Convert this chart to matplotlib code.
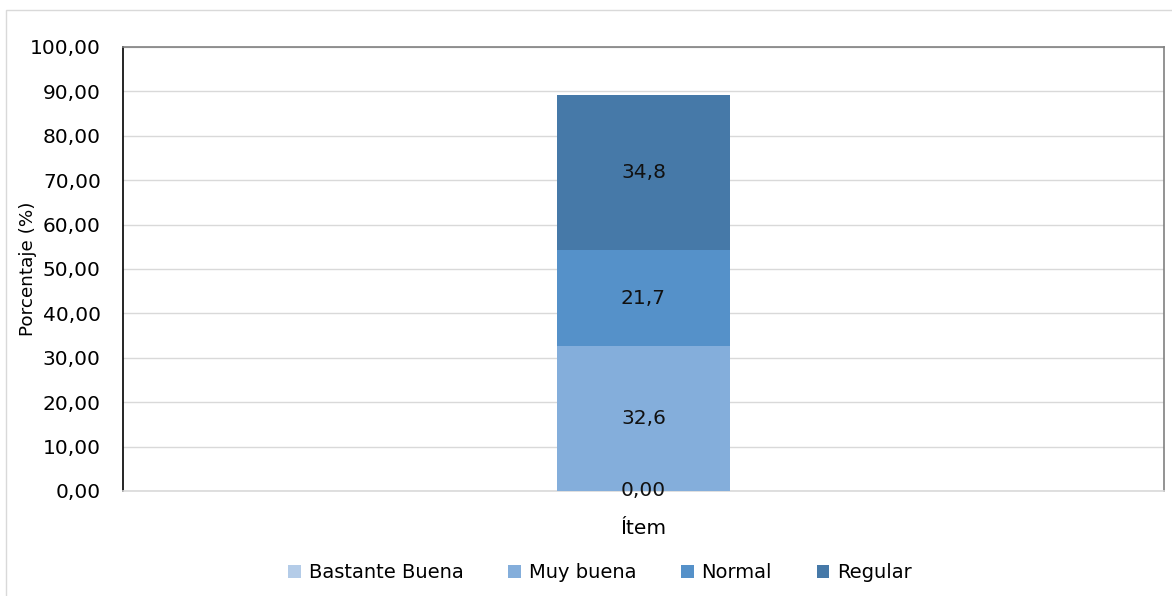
import matplotlib.pyplot as plt
from matplotlib.patches import Rectangle

categories = ['Ítem']
series = ['Bastante Buena', 'Muy buena', 'Normal', 'Regular']
values = [0.00, 32.6, 21.7, 34.8]
value_labels = ['0,00', '32,6', '21,7', '34,8']
colors = ['#B4CCE8', '#84AEDB', '#5591C9', '#4679A8']
yticks = [0, 10, 20, 30, 40, 50, 60, 70, 80, 90, 100]

plt.rcParams['font.family'] = ['DejaVu Sans']

fig = plt.figure(figsize=(11.72, 5.96), dpi=100)
# light outer frame of the chart
fig.patches.append(Rectangle((6 / 1172, -0.01), 1.02, 1 - 10 / 596 + 0.01, transform=fig.transFigure,
                             fill=False, edgecolor='#D9D9D9', linewidth=1))
ax = fig.add_axes([123 / 1172, 1 - 491 / 596, 1041 / 1172, 444 / 596])

bottom = 0
for name, v, lab, c in zip(series, values, value_labels, colors):
    ax.bar(0, v, width=0.166, bottom=bottom, color=c, label=name, zorder=3)
    ax.text(0, bottom + v / 2, lab, ha='center', va='center', fontsize=14.5,
            color='#111111', zorder=4)
    bottom += v

ax.set_xlim(-0.5, 0.5)
ax.set_ylim(0, 100)
ax.set_yticks(yticks)
ax.set_yticklabels([f'{t:.2f}'.replace('.', ',') for t in yticks], fontsize=14.5)
ax.set_xticks([0])
ax.set_xticklabels(categories, fontsize=14.5)
ax.tick_params(axis='x', length=0, pad=20)
ax.tick_params(axis='y', length=0, pad=16)
ax.yaxis.grid(True, color='#D9D9D9', linewidth=1, zorder=0)
ax.set_axisbelow(True)
ax.spines['left'].set_color('#000000')
ax.spines['top'].set_color('#808080')
ax.spines['right'].set_color('#808080')
ax.spines['bottom'].set_color('#D9D9D9')
for s in ax.spines.values():
    s.set_linewidth(1.2)
ax.set_ylabel('Porcentaje (%)', fontsize=13.2)
ax.yaxis.set_label_coords(-0.083, 0.5)

fig.legend(loc='center', bbox_to_anchor=(0.512, 1 - 573 / 596), ncol=4, frameon=False,
           fontsize=14, handlelength=0.65, handleheight=0.65, handletextpad=0.4, columnspacing=2.3)

fig.savefig('out.png', dpi=100)
